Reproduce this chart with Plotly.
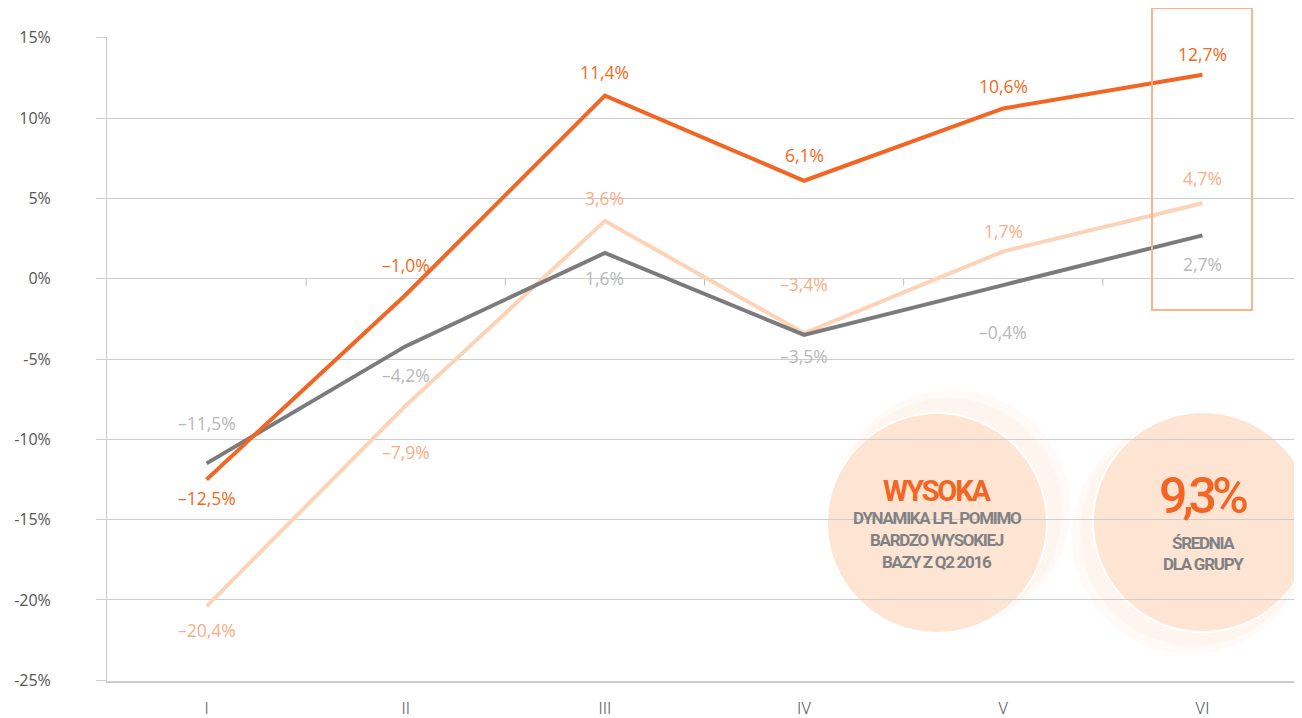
import plotly.graph_objects as go

categories = ["I", "II", "III", "IV", "V", "VI"]
orange_vals = [-12.5, -1.0, 11.4, 6.1, 10.6, 12.7]
peach_vals = [-20.4, -7.9, 3.6, -3.4, 1.7, 4.7]
grey_vals = [-11.5, -4.2, 1.6, -3.5, -0.4, 2.7]
y_ticks = [15, 10, 5, 0, -5, -10, -15, -20, -25]
y_tick_text = ["15%", "10%", "5%", "0%", "-5%", "-10%", "-15%", "-20%", "-25%"]

# label vertical offsets in px (style)
orange_shift = [-19, 30, 24, 26, 22, 21]
peach_shift = [-24, -46, 23, 49, 20, 25]
grey_shift = [40, -29, -25, -21, -47, -29]

C_ORANGE = "#F26522"
C_PEACH = "#FDD3B8"
C_GREY = "#7B7B7D"
L_ORANGE = "#F26A21"
L_PEACH = "#F8AE86"
L_GREY = "#B8B8B8"

# page has an 8px body margin; positions below are page pixels
OFF = 8
W, H = 1302 - OFF, 718 - OFF
ML, MR, MT, MB = 107 - OFF, 0, 37 - OFF, 37
PW, PH = W - ML - MR, H - MT - MB


def px(x):
    return (x - OFF - ML) / PW


def py(y):
    return (H - MB - (y - OFF)) / PH


def fmt(v):
    s = f"{abs(v):.1f}".replace(".", ",") + "%"
    return ("\u2013" + s) if v < 0 else s


fig = go.Figure()
for vals, col in [(peach_vals, C_PEACH), (grey_vals, C_GREY), (orange_vals, C_ORANGE)]:
    fig.add_trace(go.Scatter(x=categories, y=vals, mode="lines",
                             line=dict(color=col, width=4), hoverinfo="skip",
                             showlegend=False))

annotations = []
for vals, shifts, col in [(orange_vals, orange_shift, L_ORANGE),
                          (peach_vals, peach_shift, L_PEACH),
                          (grey_vals, grey_shift, L_GREY)]:
    for c, v, s in zip(categories, vals, shifts):
        annotations.append(dict(x=c, y=v, text=fmt(v), showarrow=False, yshift=s,
                                font=dict(family="Open Sans", size=17.5, color=col)))

shapes = []
# small ticks at category boundaries on the zero line
for i in range(len(categories) - 1):
    shapes.append(dict(type="line", xref="x", yref="y", x0=i + 0.5, x1=i + 0.5,
                       ysizemode="pixel", yanchor=0, y0=0, y1=-7,
                       line=dict(color="#BDBDBD", width=1), layer="between"))


def circ(cx, cy, r, **kw):
    return dict(type="circle", xref="paper", yref="paper",
                x0=px(cx - r), x1=px(cx + r), y0=py(cy + r), y1=py(cy - r), **kw)


# halos (two layers for a soft gradient)
shapes.append(circ(952, 508, 118, fillcolor="rgba(252,226,208,0.16)",
                   line=dict(width=0), layer="below"))
shapes.append(circ(948, 512, 114, fillcolor="rgba(252,226,208,0.22)",
                   line=dict(width=0), layer="below"))
shapes.append(circ(1190, 536, 118, fillcolor="rgba(252,226,208,0.16)",
                   line=dict(width=0), layer="below"))
shapes.append(circ(1194, 532, 114, fillcolor="rgba(252,226,208,0.22)",
                   line=dict(width=0), layer="below"))
# circles
shapes.append(circ(937, 523, 110, fillcolor="#FDE4D3",
                   line=dict(color="white", width=2), layer="between"))
shapes.append(circ(1203, 522, 110, fillcolor="#FDE4D3",
                   line=dict(color="white", width=2), layer="between"))
# highlight box
shapes.append(dict(type="rect", xref="paper", yref="paper",
                   x0=px(1152), x1=px(1252), y0=py(310), y1=py(8),
                   fillcolor="rgba(0,0,0,0)", line=dict(color="#F9B48A", width=2), layer="above"))

CF = "Roboto"
TG = "#808285"


def txt(x, y, t, size, col, ls, weight=700):
    return dict(xref="paper", yref="paper", x=px(x), y=py(y),
                text=f'<span style="letter-spacing:{ls}px">{t}</span>', showarrow=False,
                xanchor="center", yanchor="middle",
                font=dict(family=CF, size=size, color=col, weight=weight))


annotations += [
    txt(937, 491, "WYSOKA", 29, C_ORANGE, -2.2),
    txt(937, 518, "DYNAMIKA LFL POMIMO", 17, TG, -1.3),
    txt(937, 540, "BARDZO WYSOKIEJ", 17, TG, -1.3),
    txt(937, 562, "BAZY Z Q2 2016", 17, TG, -1.3),
    txt(1203, 496, "9,3%", 50, C_ORANGE, -5, 500),
    txt(1203, 543, "ŚREDNIA", 17, TG, -1.3),
    txt(1203, 564, "DLA GRUPY", 17, TG, -1.3),
]

fig.update_layout(
    width=W, height=H, margin=dict(l=ML, r=MR, t=MT, b=MB, autoexpand=False),
    paper_bgcolor="white", plot_bgcolor="white",
    shapes=shapes, annotations=annotations,
    xaxis=dict(type="category", categoryorder="array", categoryarray=categories,
               range=[-0.5, 5.5], showgrid=False, zeroline=False,
               showline=True, linecolor="#CCCCCC", linewidth=2,
               ticks="", ticklabelstandoff=12, automargin=False,
               tickfont=dict(family="Roboto", size=16, color="#555555", weight=300)),
    yaxis=dict(range=[-25.05, 15.05], tickvals=y_ticks, ticktext=y_tick_text,
               showgrid=True, gridcolor="#CDCDCD", gridwidth=1, zeroline=False,
               showline=True, linecolor="#CDCDCD", linewidth=1, automargin=False,
               ticks="outside", ticklen=10, tickcolor="#CDCDCD", ticklabelstandoff=42,
               tickfont=dict(family="Open Sans", size=16, color="#555555")),
)

fig.write_html("out.html")
